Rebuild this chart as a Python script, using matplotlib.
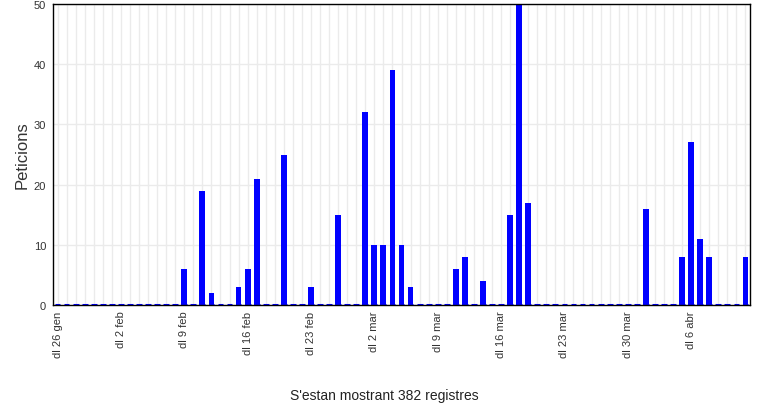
import datetime as dt
import matplotlib
matplotlib.use('Agg')
import matplotlib.pyplot as plt

plt.rcParams['font.family'] = ['Liberation Sans', 'DejaVu Sans']

start = dt.date(2015, 1, 26)
n_days = 77

# peticions per day (index = days since 26 gen)
counts = {14: 6, 16: 19, 17: 2, 20: 3, 21: 6, 22: 21, 25: 25, 28: 3, 31: 15,
          34: 32, 35: 10, 36: 10, 37: 39, 38: 10, 39: 3, 44: 6, 45: 8, 47: 4,
          50: 15, 51: 50, 52: 17, 65: 16, 69: 8, 70: 27, 71: 11, 72: 8, 76: 8}
values = [counts.get(i, 0) for i in range(n_days)]

months = ['gen', 'feb', 'mar', 'abr']
tick_pos = list(range(0, n_days, 7))
tick_labels = []
for p in tick_pos:
    d = start + dt.timedelta(days=p)
    tick_labels.append('dl %d %s' % (d.day, months[d.month - 1]))

fig = plt.figure(figsize=(7.74, 4.14), dpi=100)
ax = fig.add_axes([53/774, 1 - 306/414, 697/774, 301/414])

days = list(range(n_days))
ax.bar(days, values, width=0.64, color='#0000ff', linewidth=0, zorder=3)
# thin stub on every day (also the empty ones), like the original chart
ax.bar(days, [0] * n_days, width=0.64, color='#0000ff', edgecolor='#0000ff',
       linewidth=2.2, zorder=3)

ax.set_xlim(-0.5, n_days - 0.5)
ax.set_ylim(0, 50)
ax.set_yticks([0, 10, 20, 30, 40, 50])
ax.set_xticks(days, minor=True)
ax.set_xticks(tick_pos)
ax.set_xticklabels(tick_labels, rotation=90, va='top', ha='center')
ax.grid(True, which='both', axis='x', color='#ebebeb', linewidth=1, zorder=0)
ax.grid(True, axis='y', color='#ebebeb', linewidth=1, zorder=0)
ax.tick_params(axis='both', which='both', length=0, labelsize=8,
               labelcolor='#333333')
ax.tick_params(axis='x', pad=4)
ax.tick_params(axis='y', pad=5)
for s in ax.spines.values():
    s.set_linewidth(1.0)
    s.set_color('black')
    s.set_zorder(4)

ax.set_ylabel('Peticions', fontsize=12, color='#333333', labelpad=3)
fig.text(384/774, 1 - 396/414, "S'estan mostrant 382 registres", fontsize=10,
         color='#222222', ha='center', va='center')

fig.savefig('out.png', dpi=100)
